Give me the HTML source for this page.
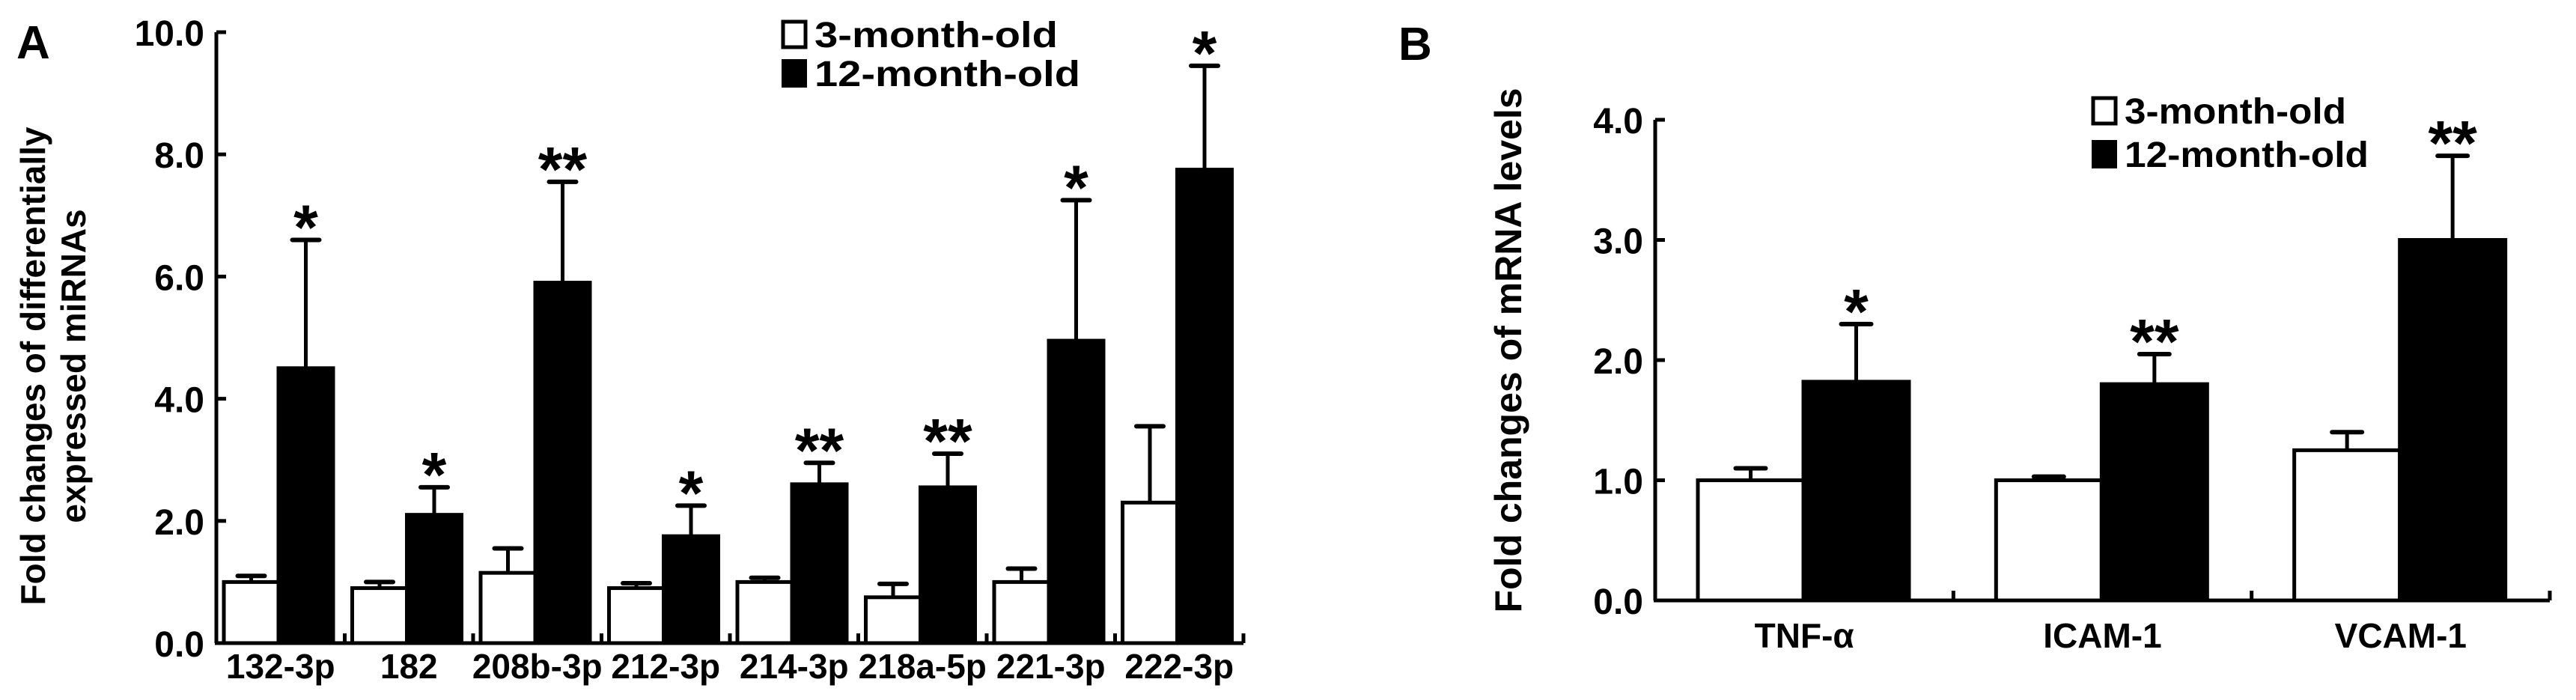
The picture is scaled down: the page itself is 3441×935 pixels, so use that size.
<!DOCTYPE html>
<html><head><meta charset="utf-8"><style>
html,body{margin:0;padding:0;background:#fff;}
svg{display:block;}
text{font-family:"Liberation Sans",Arial,sans-serif;font-weight:bold;fill:#000;}
</style></head><body>
<svg id="chart" width="3441" height="935" viewBox="0 0 3441 935" xmlns="http://www.w3.org/2000/svg">
<g id="pa"></g>
<g id="pb"></g>
</svg>
<script>
// Panel A data
const catsA = ["132-3p","182","208b-3p","212-3p","214-3p","218a-5p","221-3p","222-3p"];
const youngA = [1.0,0.9,1.15,0.9,1.0,0.75,1.0,2.3];
const youngErrA = [1.1,1.0,1.55,0.98,1.07,0.97,1.22,3.55];
const oldA = [4.5,2.1,5.9,1.75,2.6,2.55,4.95,7.75];
const oldErrA = [6.6,2.55,7.55,2.25,2.95,3.1,7.25,9.45];
const starsA = ["*","*","**","*","**","**","*","*"];
const ticksA = [0,2,4,6,8,10];
// Panel B data
const catsB = ["TNF-α","ICAM-1","VCAM-1"];
const youngB = [1.0,1.0,1.25];
const youngErrB = [1.1,1.03,1.4];
const oldB = [1.82,1.8,3.0];
const oldErrB = [2.3,2.05,3.7];
const starsB = ["*","**","**"];
const ticksB = [0,1,2,3,4];

const NS="http://www.w3.org/2000/svg";
function mk(parent,tag,attrs,txt){const e=document.createElementNS(NS,tag);for(const k in attrs)e.setAttribute(k,attrs[k]);if(txt!==undefined)e.textContent=txt;parent.appendChild(e);return e;}

function panel(g,cfg){
  const y=v=>cfg.y0-(v/cfg.vmax)*(cfg.y0-cfg.ytop);
  const n=cfg.cats.length;const gw=(cfg.xend-cfg.x0)/n;
  let a=mk(g,'line',{x1:cfg.x0,y1:cfg.y0,x2:cfg.x0,y2:y(cfg.vmax),stroke:'#000','stroke-width':5});
  
  
  a=mk(g,'line',{x1:cfg.x0-2,y1:cfg.y0,x2:cfg.xend,y2:cfg.y0,stroke:'#000','stroke-width':5});
  
  
  cfg.ticks.forEach(t=>{
    const l=mk(g,'line',{x1:cfg.x0,y1:y(t),x2:cfg.x0+13,y2:y(t),stroke:'#000','stroke-width':5});
    
    
    const tx=mk(g,'text',{x:cfg.x0-16,y:y(t)+18,'text-anchor':'end','font-size':cfg.fs+2},t.toFixed(1));
    
    
  });
  for(let i=1;i<=n;i++){
    const l=mk(g,'line',{x1:cfg.x0+i*gw,y1:cfg.y0,x2:cfg.x0+i*gw,y2:cfg.y0-13,stroke:'#000','stroke-width':5});
    
    
  }
  cfg.cats.forEach((c,i)=>{
    const gx=cfg.x0+i*gw;
    const wx=gx+cfg.off, bx=wx+cfg.bw, cxw=wx+cfg.bw/2, cxb=bx+cfg.bw/2;
    let e=mk(g,'line',{x1:cxw,y1:y(cfg.yw[i]),x2:cxw,y2:y(cfg.ywe[i]),stroke:'#000','stroke-width':5});
    
    
    e=mk(g,'line',{x1:cxw-cfg.cap,y1:y(cfg.ywe[i]),x2:cxw+cfg.cap,y2:y(cfg.ywe[i]),stroke:'#000','stroke-width':6,'stroke-linecap':'round'});
    
    
    e=mk(g,'line',{x1:cxb,y1:y(cfg.yo[i]),x2:cxb,y2:y(cfg.yoe[i]),stroke:'#000','stroke-width':5});
    
    
    e=mk(g,'line',{x1:cxb-cfg.cap,y1:y(cfg.yoe[i]),x2:cxb+cfg.cap,y2:y(cfg.yoe[i]),stroke:'#000','stroke-width':6,'stroke-linecap':'round'});
    
    
    let r=mk(g,'rect',{x:wx,y:y(cfg.yw[i]),width:cfg.bw,height:cfg.y0-y(cfg.yw[i]),fill:'#fff',stroke:'#000','stroke-width':5});
    
    
    r=mk(g,'rect',{x:bx,y:y(cfg.yo[i]),width:cfg.bw,height:cfg.y0-y(cfg.yo[i]),fill:'#000',stroke:'#000','stroke-width':5});
    
    
    const s=mk(g,'text',{x:cxb,y:y(cfg.yoe[i])+cfg.starDy,'text-anchor':'middle','font-size':cfg.starFs},cfg.stars[i]);
    
    
    const lb=mk(g,'text',{x:gx+gw/2,y:cfg.labY,'text-anchor':'middle','font-size':cfg.fs},c);
    
    
  });
}
const pa=document.getElementById('pa'), pb=document.getElementById('pb');
panel(pa,{cats:catsA,yw:youngA,ywe:youngErrA,yo:oldA,yoe:oldErrA,stars:starsA,ticks:ticksA,vmax:10,
  x0:289,xend:1661,y0:859,ytop:43,off:10,bw:73,cap:18,fs:46,starFs:84,starDy:12,labY:906});
panel(pb,{cats:catsB,yw:youngB,ywe:youngErrB,yo:oldB,yoe:oldErrB,stars:starsB,ticks:ticksB,vmax:4,
  x0:2211,xend:3406,y0:802,ytop:160,off:57,bw:141,cap:20,fs:46,starFs:84,starDy:12,labY:865});

let t;
t=mk(pa,'text',{x:22,y:78,'font-size':62},'A');


t=mk(pa,'text',{x:60,y:489,'text-anchor':'middle','font-size':46,transform:'rotate(-90 60 489)'},'Fold changes of differentially');


t=mk(pa,'text',{x:114,y:489,'text-anchor':'middle','font-size':46,transform:'rotate(-90 114 489)'},'expressed miRNAs');


t=mk(pb,'text',{x:1868,y:80,'font-size':62},'B');


t=mk(pb,'text',{x:2032,y:468,'text-anchor':'middle','font-size':50,transform:'rotate(-90 2032 468)'},'Fold changes of mRNA levels');



function legend(g,x,y1,y2,tw){
  let r=mk(g,'rect',{x:x,y:y1-17,width:30,height:34,fill:'#fff',stroke:'#000','stroke-width':5});
  
  
  let t=mk(g,'text',{x:x+42,y:y1+17,'font-size':48,textLength:tw,lengthAdjust:'spacingAndGlyphs'},'3-month-old');
  
  
  r=mk(g,'rect',{x:x-2,y:y2-19,width:34,height:38,fill:'#000'});
  
  
  t=mk(g,'text',{x:x+42,y:y2+17,'font-size':48,textLength:tw+30,lengthAdjust:'spacingAndGlyphs'},'12-month-old');
  
  
}
legend(pa,1046,46,98,325);
legend(pb,2796,148,206,296);
</script>
</body></html>
